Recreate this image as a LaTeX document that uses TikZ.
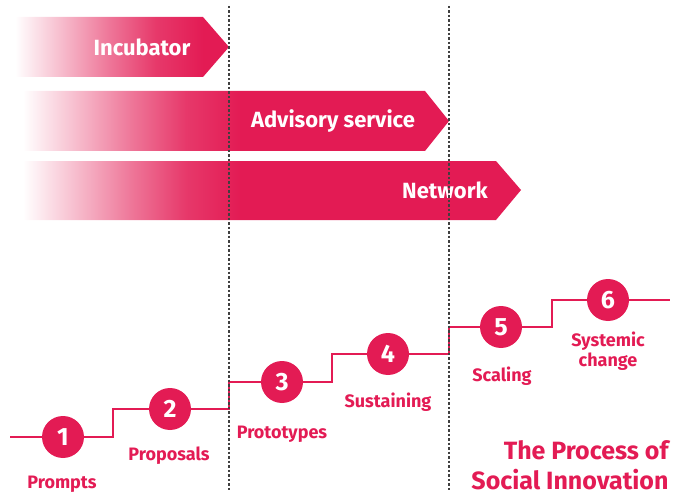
\documentclass[tikz,border=0pt]{standalone}
\usepackage{fontspec}
\setmainfont{Fira Sans}
\definecolor{sired}{HTML}{E31B54}
\pgfdeclarehorizontalshading{incfade}{100bp}{color(0bp)=(white); color(25bp)=(white); color(36bp)=(sired!30); color(47bp)=(sired!60); color(58bp)=(sired!87); color(69bp)=(sired); color(100bp)=(sired)}
\pgfdeclarehorizontalshading{advfade}{100bp}{color(0bp)=(white); color(25bp)=(white); color(31.4bp)=(sired!30); color(37.75bp)=(sired!60); color(44.1bp)=(sired!87); color(50.5bp)=(sired); color(100bp)=(sired)}
\pgfdeclarehorizontalshading{netfade}{100bp}{color(0bp)=(white); color(25bp)=(white); color(30.45bp)=(sired!30); color(35.9bp)=(sired!60); color(41.35bp)=(sired!87); color(46.8bp)=(sired); color(100bp)=(sired)}
\begin{document}
\begin{tikzpicture}[x=1pt, y=-1pt,
  bandtext/.style={text=white, font=\fontsize{22}{26}\selectfont\bfseries},
  stepdot/.style={circle, fill=sired, minimum size=42pt, inner sep=0pt, text=white, font=\fontsize{25}{28}\selectfont\bfseries},
  stepname/.style={text=sired, align=center, font=\fontsize{18}{20}\selectfont\bfseries},
  stepline/.style={draw=sired, line width=1.6pt},
  divider/.style={draw=black!75, line width=1.4pt, dash pattern=on 2.5pt off 2pt}]

\useasboundingbox (0,0) rectangle (673,495);

% bands
\shade [shading=incfade] (15,17) -- (203,17) -- (229,47) -- (203,77) -- (15,77) -- cycle;
\node [bandtext] (incubator) at (142,47) {Incubator};

\shade [shading=advfade] (23,91) -- (425,91) -- (449,121) -- (425,151) -- (23,151) -- cycle;
\node [bandtext] (advisory) at (333,121) {Advisory service};

\shade [shading=netfade] (23,161) -- (496,161) -- (521,190) -- (496,220) -- (23,220) -- cycle;
\node [bandtext] (network) at (445,190) {Network};

% steps
\coordinate (start) at (10,437);
\coordinate (k1) at (113,409);
\coordinate (k2) at (229,382);
\coordinate (k3) at (332,354);
\coordinate (k4) at (449,327);
\coordinate (k5) at (552,300);
\coordinate (stop) at (670,300);

\draw [stepline] (start) -| (k1) -- (170,409) -| (k2) -- (282,382) -| (k3) -- (388,354) -| (k4) -- (501,327) -| (k5) -- (stop);

\node [stepdot] (n1) at (63,437) {1};
\node [stepdot] (n2) at (170,409) {2};
\node [stepdot] (n3) at (282,382) {3};
\node [stepdot] (n4) at (388,354) {4};
\node [stepdot] (n5) at (501,327) {5};
\node [stepdot] (n6) at (608,300) {6};

\node [stepname] (prompts) at (62,484) {Prompts};
\node [stepname] (proposals) at (169,456) {Proposals};
\node [stepname] (prototypes) at (282,434) {Prototypes};
\node [stepname] (sustaining) at (388,402) {Sustaining};
\node [stepname] (scaling) at (502,376) {Scaling};
\node [stepname] (systemic) at (608,351) {Systemic\\change};

\node [text=sired, anchor=east, align=right, font=\fontsize{25}{30}\selectfont\bfseries] (title) at (672,465) {The Process of\\Social Innovation};

% phase dividers
\draw [divider] (229,6) -- (229,490);
\draw [divider] (449,6) -- (449,490);

\end{tikzpicture}
\end{document}
